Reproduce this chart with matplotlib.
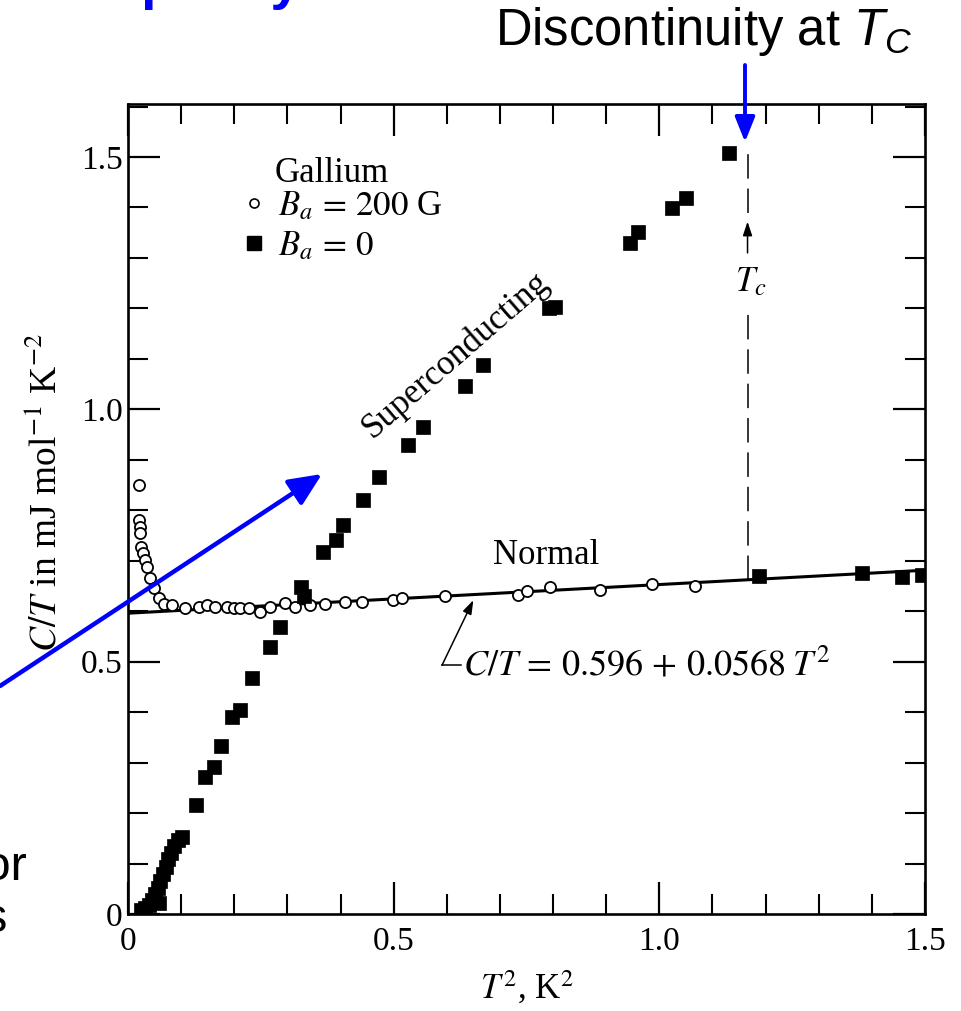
import numpy as np
import matplotlib
matplotlib.use('Agg')
import matplotlib.pyplot as plt
from matplotlib.lines import Line2D
from matplotlib.patches import FancyArrowPatch
from matplotlib.ticker import MultipleLocator, FixedLocator, FixedFormatter

plt.rcParams['font.family'] = ['Liberation Serif', 'DejaVu Serif']
plt.rcParams['mathtext.fontset'] = 'custom'
plt.rcParams['mathtext.rm'] = 'Liberation Sans'
plt.rcParams['mathtext.it'] = 'Liberation Sans:italic'

# B_a = 0 (filled squares): T^2 in K^2, C/T in mJ mol^-1 K^-2
sq_t2 = [0.025, 0.032, 0.040, 0.046, 0.051, 0.056, 0.058, 0.061, 0.066, 0.071,
         0.076, 0.081, 0.087, 0.094, 0.102, 0.128, 0.145, 0.162, 0.175, 0.196,
         0.211, 0.234, 0.268, 0.286, 0.325, 0.332, 0.367, 0.392, 0.405, 0.443,
         0.472, 0.527, 0.555, 0.635, 0.669, 0.792, 0.803, 0.945, 0.960, 1.024,
         1.051, 1.132, 1.188, 1.382, 1.456, 1.495]
sq_ct = [0.008, 0.012, 0.018, 0.028, 0.040, 0.052, 0.022, 0.066, 0.080, 0.094,
         0.108, 0.121, 0.134, 0.146, 0.153, 0.216, 0.271, 0.291, 0.333, 0.390,
         0.404, 0.468, 0.529, 0.569, 0.648, 0.630, 0.717, 0.741, 0.771, 0.820,
         0.866, 0.929, 0.965, 1.046, 1.088, 1.201, 1.203, 1.329, 1.351, 1.399,
         1.419, 1.508, 0.670, 0.675, 0.668, 0.672]

# B_a = 200 G (open circles)
circ_t2 = [0.021, 0.021, 0.022, 0.023, 0.025, 0.028, 0.032, 0.036, 0.042, 0.049,
           0.058, 0.068, 0.083, 0.107, 0.134, 0.149, 0.164, 0.186, 0.200, 0.211,
           0.228, 0.249, 0.267, 0.296, 0.314, 0.343, 0.371, 0.409, 0.441, 0.499,
           0.516, 0.597, 0.734, 0.751, 0.795, 0.889, 0.987, 1.068]
circ_ct = [0.850, 0.781, 0.767, 0.755, 0.727, 0.715, 0.701, 0.688, 0.666, 0.646,
           0.626, 0.614, 0.612, 0.606, 0.608, 0.612, 0.608, 0.608, 0.606, 0.606,
           0.606, 0.598, 0.608, 0.616, 0.608, 0.612, 0.614, 0.618, 0.618, 0.622,
           0.626, 0.630, 0.632, 0.640, 0.648, 0.642, 0.654, 0.650]

# normal state fit C/T = gamma + beta T^2, and transition
gamma = 0.596
beta = 0.0568
tc2 = 1.166

xticks = [0, 0.5, 1.0, 1.5]
xticklabels = ['0', '0.5', '1.0', '1.5']
yticks = [0, 0.5, 1.0, 1.5]
yticklabels = ['0', '0.5', '1.0', '1.5']

W, H = 961, 1011
fig = plt.figure(figsize=(W / 100, H / 100), dpi=100)
ax = fig.add_axes([128 / W, 97 / H, 797 / W, 810 / H])

# normal state line
t_line = np.array([0.0, 1.5])
ax.plot(t_line, gamma + beta * t_line, color='k', lw=2.2, zorder=2)

# vertical dashed line at Tc (broken around the label)
ct_tc = gamma + beta * tc2
ax.plot([tc2, tc2], [ct_tc, 1.20], color='k', lw=1.1, dashes=(16, 6.5), zorder=2)
ax.plot([tc2, tc2], [1.39, 1.518], color='k', lw=1.1, dashes=(16, 6.5), zorder=2)
ax.annotate('', xy=(tc2, 1.372), xytext=(tc2, 1.31),
            arrowprops=dict(arrowstyle='-|>,head_length=0.6,head_width=0.2',
                            lw=1.1, color='k', shrinkA=0, shrinkB=0,
                            mutation_scale=14))
ax.text(tc2 + 0.006, 1.25, r'$T_c$', ha='center', va='center', fontsize=25,
        math_fontfamily='stix')

ax.plot(circ_t2, circ_ct, 'o', ms=8, mfc='white', mec='k', mew=1.3, zorder=3)
ax.plot(sq_t2, sq_ct, 's', ms=10.3, mfc='k', mec='k', mew=0.5, zorder=4)

ax.set_xlim(0, 1.5)
ax.set_ylim(0, 1.605)
ax.xaxis.set_major_locator(FixedLocator(xticks))
ax.xaxis.set_major_formatter(FixedFormatter(xticklabels))
ax.yaxis.set_major_locator(FixedLocator(yticks))
ax.yaxis.set_major_formatter(FixedFormatter(yticklabels))
ax.xaxis.set_minor_locator(MultipleLocator(0.1))
ax.yaxis.set_minor_locator(MultipleLocator(0.1))
ax.tick_params(which='both', direction='in', top=True, right=True, labelsize=24)
ax.tick_params(which='major', length=23, width=1.6)
ax.tick_params(which='minor', length=14.5, width=1.5)
ax.tick_params(axis='x', pad=9)
ax.tick_params(axis='y', pad=4)
for sp in ax.spines.values():
    sp.set_linewidth(1.9)

ax.set_xlabel(r'$T^2$, K$^2$', fontsize=25, math_fontfamily='stix')
ax.xaxis.set_label_coords(0.5, -0.068)
ax.set_ylabel(r'$C/T$ in mJ mol$^{-1}$ K$^{-2}$', fontsize=27, math_fontfamily='stix')
ax.yaxis.set_label_coords(-0.080, 0.52)

# in-plot labels
ax.text(0.276, 1.450, 'Gallium', fontsize=25, va='baseline')
ax.text(0.616, 1.108, 'Superconducting', rotation=41, ha='center', va='center',
        rotation_mode='anchor', fontsize=25)
ax.text(0.787, 0.711, 'Normal', ha='center', va='center', fontsize=25)
ax.text(0.630, 0.4716, r'$C/T\,=\,0.596\,+\,0.0568\;T^2$', va='baseline',
        fontsize=26, math_fontfamily='stix')
ax.plot([0.591, 0.627], [0.493, 0.493], color='k', lw=1.1)
ax.annotate('', xy=(0.650, 0.622), xytext=(0.591, 0.493),
            arrowprops=dict(arrowstyle='-|>,head_length=0.6,head_width=0.2',
                            lw=1.1, color='k', shrinkA=0, shrinkB=0,
                            mutation_scale=14))

handles = [Line2D([], [], ls='none', marker='o', ms=6.5, mfc='white', mec='k', mew=1.2),
           Line2D([], [], ls='none', marker='s', ms=10.5, mfc='k', mec='k')]
labels = [r'$B_a\,=\,200$ G', r'$B_a\,=\,0$']
leg = ax.legend(handles, labels, loc='upper left', frameon=False,
                bbox_to_anchor=(242 / W, (H - 190) / H), bbox_transform=fig.transFigure,
                handlelength=0.7, handletextpad=0.35, labelspacing=0.2, borderpad=0,
                borderaxespad=0, prop={'family': ['Liberation Serif'], 'size': 25})
for t in leg.get_texts():
    t.set_math_fontfamily('stix')

# slide annotations (blue arrows and cut-off slide text)
blue = '#0000ff'
sans = ['Liberation Sans', 'DejaVu Sans']
fig.text(495 / W, (H - 45) / H, r'Discontinuity at $T_C$', fontsize=36.5,
         family=sans, va='baseline', math_fontfamily='custom')
fig.text(-56 / W, (H + 2) / H, 'Heat capacity', fontsize=40, family=sans,
         weight='bold', color=blue, va='baseline')
fig.text(27 / W, (H - 880) / H, 'for', fontsize=35, family=sans, ha='right',
         va='baseline')
fig.text(8 / W, (H - 932) / H, 'es', fontsize=35, family=sans, ha='right',
         va='baseline')

arr1 = FancyArrowPatch((0 / W, (H - 686) / H), (322 / W, (H - 474) / H),
                       transform=fig.transFigure, color=blue, lw=3.2,
                       arrowstyle='-|>,head_length=1.0,head_width=0.45',
                       mutation_scale=20, shrinkA=0, shrinkB=0, zorder=10)
arr2 = FancyArrowPatch((745 / W, (H - 65) / H), (745 / W, (H - 142) / H),
                       transform=fig.transFigure, color=blue, lw=2.8,
                       arrowstyle='-|>,head_length=1.0,head_width=0.4',
                       mutation_scale=15, shrinkA=0, shrinkB=0, zorder=10)
fig.add_artist(arr1)
fig.add_artist(arr2)

fig.savefig('out.png', dpi=100)
